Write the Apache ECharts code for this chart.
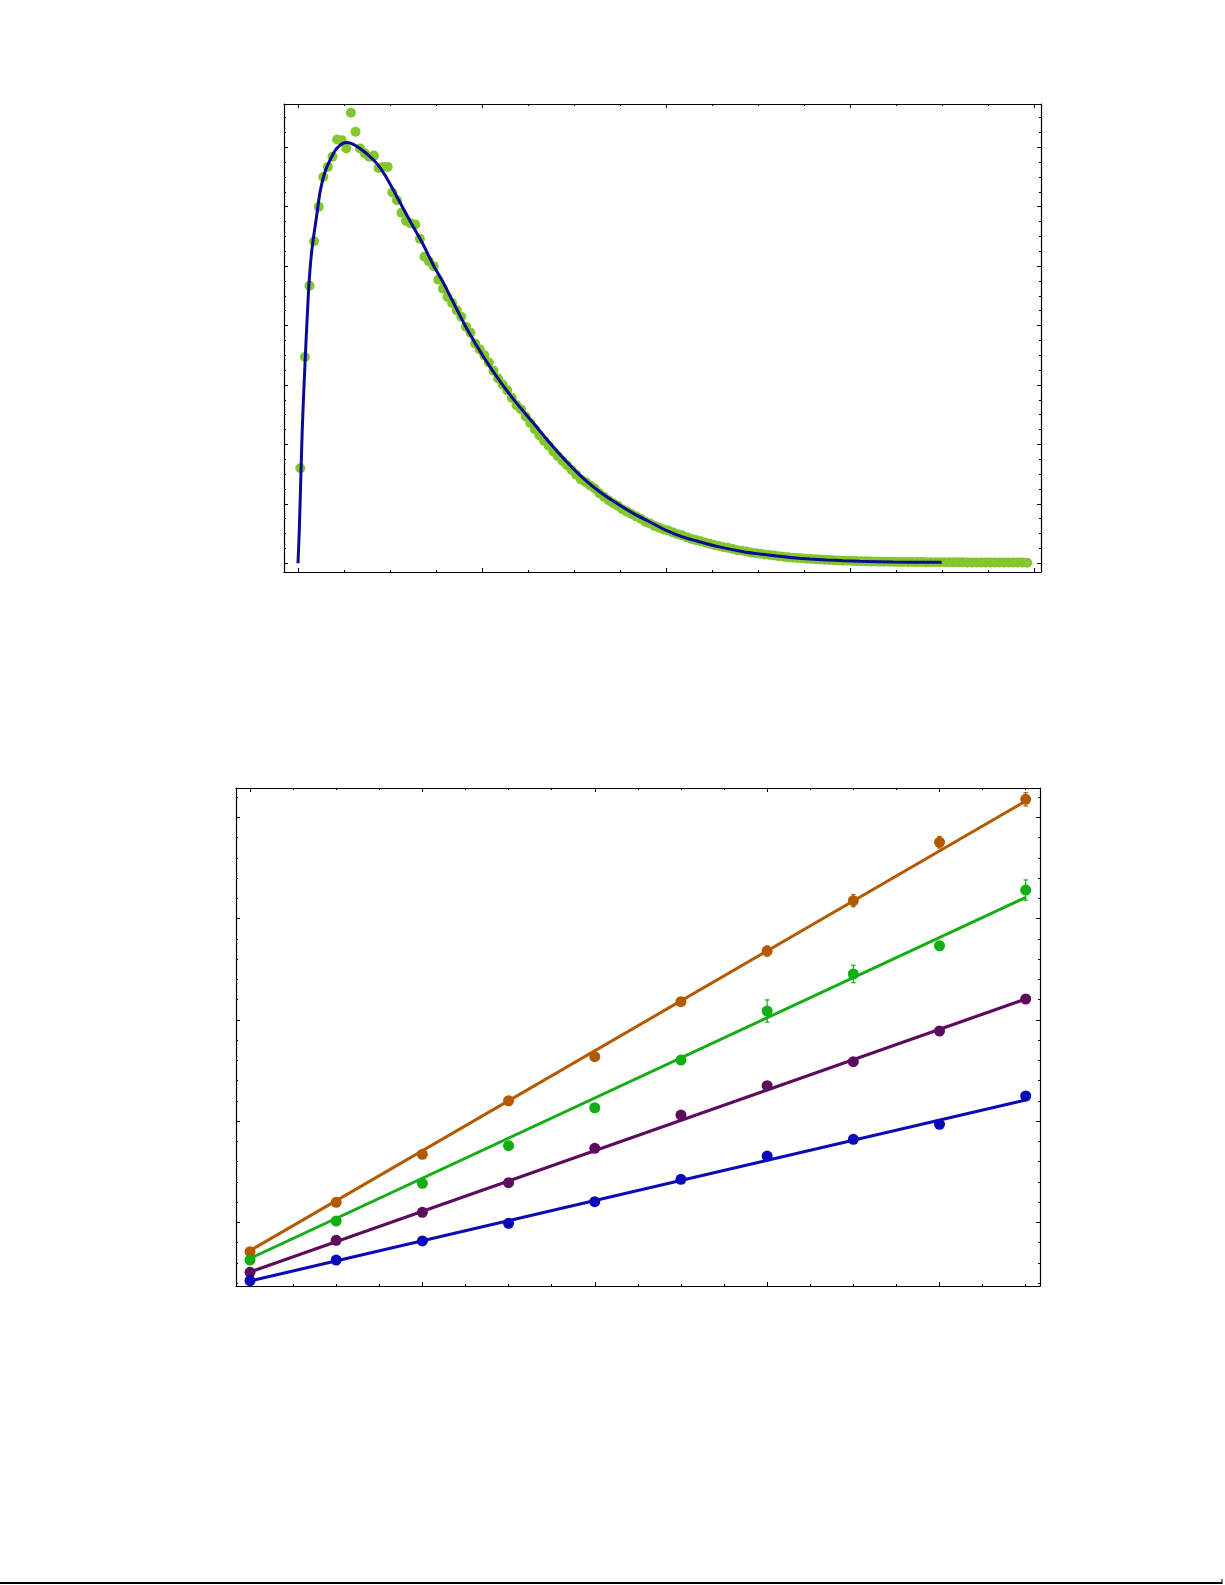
<!DOCTYPE html>
<html>
<head>
<meta charset="utf-8">
<script src="https://cdn.jsdelivr.net/npm/echarts@6/dist/echarts.min.js"></script>
<style>
html,body{margin:0;padding:0;background:#fff;}
#chart{width:1225px;height:1585px;}
</style>
</head>
<body>
<div id="chart"></div>
<script>
// ---------- Top panel data ----------
const topPointX = [
0.0125,0.0375,0.0625,0.0875,0.1125,0.1375,0.1625,0.1875,0.2125,0.2375,
0.2625,0.2875,0.3125,0.3375,0.3625,0.3875,0.4125,0.4375,0.4625,0.4875,
0.5125,0.5375,0.5625,0.5875,0.6125,0.6375,0.6625,0.6875,0.7125,0.7375,
0.7625,0.7875,0.8125,0.8375,0.8625,0.8875,0.9125,0.9375,0.9625,0.9875,
1.0125,1.0375,1.0625,1.0875,1.1125,1.1375,1.1625,1.1875,1.2125,1.2375,
1.2625,1.2875,1.3125,1.3375,1.3625,1.3875,1.4125,1.4375,1.4625,1.4875,
1.5125,1.5375,1.5625,1.5875,1.6125,1.6375,1.6625,1.6875,1.7125,1.7375,
1.7625,1.7875,1.8125,1.8375,1.8625,1.8875,1.9125,1.9375,1.9625,1.9875,
2.0125,2.0375,2.0625,2.0875,2.1125,2.1375,2.1625,2.1875,2.2125,2.2375,
2.2625,2.2875,2.3125,2.3375,2.3625,2.3875,2.4125,2.4375,2.4625,2.4875,
2.5125,2.5375,2.5625,2.5875,2.6125,2.6375,2.6625,2.6875,2.7125,2.7375,
2.7625,2.7875,2.8125,2.8375,2.8625,2.8875,2.9125,2.9375,2.9625,2.9875,
3.0125,3.0375,3.0625,3.0875,3.1125,3.1375,3.1625,3.1875,3.2125,3.2375,
3.2625,3.2875,3.3125,3.3375,3.3625,3.3875,3.4125,3.4375,3.4625,3.4875,
3.5125,3.5375,3.5625,3.5875,3.6125,3.6375,3.6625,3.6875,3.7125,3.7375,
3.7625,3.7875,3.8125,3.8375,3.8625,3.8875,3.9125,3.9375,3.9625
];
const topPointY = [
1.60,3.47,4.67,5.42,6.00,6.50,6.67,6.84,7.13,7.12,
6.98,7.58,7.26,6.98,6.90,6.84,6.86,6.65,6.67,6.67,
6.24,6.11,5.90,5.76,5.72,5.70,5.46,5.16,5.08,5.00,
4.77,4.62,4.48,4.38,4.26,4.15,3.98,3.88,3.70,3.60,
3.50,3.38,3.24,3.11,3.01,2.91,2.78,2.66,2.59,2.47,
2.36,2.25,2.15,2.06,1.98,1.88,1.80,1.72,1.65,1.57,
1.49,1.41,1.37,1.31,1.26,1.18,1.12,1.06,1.01,0.97,
0.91,0.87,0.83,0.79,0.75,0.70,0.67,0.63,0.60,0.57,
0.55,0.52,0.49,0.47,0.44,0.41,0.39,0.37,0.35,0.33,
0.31,0.29,0.27,0.26,0.24,0.22,0.21,0.20,0.18,0.17,
0.16,0.15,0.14,0.13,0.12,0.11,0.10,0.095,0.09,0.085,
0.078,0.072,0.068,0.063,0.058,0.055,0.051,0.048,0.045,0.042,
0.040,0.037,0.035,0.033,0.031,0.029,0.028,0.026,0.025,0.024,
0.023,0.022,0.021,0.021,0.020,0.020,0.019,0.019,0.018,0.018,
0.017,0.017,0.016,0.016,0.016,0.015,0.015,0.015,0.014,0.014,
0.014,0.013,0.013,0.013,0.012,0.012,0.012,0.012,0.011
];
const topCurveX = [0,0.007,0.015,0.023,0.034,0.056,0.074,0.102,0.120,0.147,0.183,0.210,0.246,0.268,0.301,0.337,0.382,0.428,0.473,0.518,0.572,0.627,0.681,0.735,0.790,0.826,0.917,1.007,1.098,1.189,1.279,1.370,1.460,1.551,1.641,1.732,1.822,1.913,2.004,2.094,2.185,2.284,2.420,2.511,2.602,2.692,2.783,2.873,2.964,3.054,3.235,3.498];
const topCurveY = [0,0.56,1.40,2.24,3.08,4.51,5.24,5.86,6.25,6.59,6.84,6.98,7.07,7.08,7.05,6.98,6.87,6.73,6.53,6.28,5.97,5.66,5.36,5.02,4.72,4.50,3.95,3.48,3.06,2.69,2.36,2.02,1.71,1.43,1.20,1.01,0.84,0.695,0.55,0.44,0.36,0.28,0.195,0.156,0.123,0.094,0.072,0.056,0.044,0.034,0.022,0.017];

const topXMajor = [0,1,2,3,4];
const topXMinor = [0.25,0.5,0.75,1.25,1.5,1.75,2.25,2.5,2.75,3.25,3.5,3.75];
const topYMajor = [0,1,2,3,4,5,6,7];
const topYMinor = [0.25,0.5,0.75,1.25,1.5,1.75,2.25,2.5,2.75,3.25,3.5,3.75,4.25,4.5,4.75,5.25,5.5,5.75,6.25,6.5,6.75,7.25,7.5];

// ---------- Bottom panel data ----------
const botX = [0,1,2,3,4,5,6,7,8,9];
const orangeY = [0.709,1.197,1.671,2.200,2.635,3.178,3.679,4.176,4.753,5.177];
const orangeErr = [0.02,0.02,0.02,0.02,0.025,0.035,0.05,0.06,0.057,0.066];
const greenY  = [0.627,1.012,1.385,1.756,2.131,2.602,3.086,3.452,3.731,4.281];
const greenErr = [0.02,0.02,0.02,0.02,0.03,0.03,0.11,0.086,0.03,0.10];
const purpleY = [0.506,0.822,1.098,1.391,1.730,2.059,2.349,2.586,2.889,3.205];
const purpleErr = [0.015,0.015,0.015,0.015,0.02,0.02,0.02,0.02,0.02,0.02];
const blueY   = [0.423,0.627,0.815,0.990,1.203,1.424,1.654,1.819,1.967,2.247];
const blueErr = [0.015,0.015,0.015,0.015,0.015,0.015,0.02,0.02,0.02,0.02];
const fitX = [0,9];
const orangeFit = [0.72,5.16];
const greenFit  = [0.642,4.209];
const purpleFit = [0.509,3.205];
const blueFit   = [0.42,2.207];

const botXMajor = [0,2,4,6,8];
const botXMinor = [0.5,1,1.5,2.5,3,3.5,4.5,5,5.5,6.5,7,7.5,8.5,9];
const botYMajor = [1,2,3,4,5];
const botYMinor = [0.4,0.6,0.8,1.2,1.4,1.6,1.8,2.2,2.4,2.6,2.8,3.2,3.4,3.6,3.8,4.2,4.4,4.6,4.8,5.2];

// ---------- Colors ----------
const C_POINT = '#82c72c';
const C_CURVE = '#0a0a92';
const C_ORANGE = '#b35a00';
const C_GREEN = '#12ae12';
const C_PURPLE = '#5c0c5c';
const C_BLUE = '#0a0ab6';

const zip = (xs, ys) => xs.map((x, i) => [x, ys[i]]);
const zip3 = (xs, ys, es) => xs.map((x, i) => [x, ys[i], es[i]]);

function axis(gridIndex, position, min, max, ticks, len, showLine) {
  return {
    type: 'value', gridIndex, position, min, max,
    axisLine: { show: showLine, onZero: false, lineStyle: { color: '#000', width: 1.2 } },
    axisTick: { show: true, inside: true, length: len, customValues: ticks, lineStyle: { color: '#000', width: 1 } },
    axisLabel: { show: false },
    splitLine: { show: false },
    minorTick: { show: false }
  };
}

const TOP = { left: 284, top: 104, width: 757, height: 468, xmin: -0.07609, xmax: 4.0380, ymin: -0.1464, ymax: 7.7284 };
const BOT = { left: 236, top: 788, width: 804, height: 498, xmin: -0.1624, xmax: 9.1658, ymin: 0.3704, ymax: 5.2889 };

const grids = [
  { left: TOP.left, top: TOP.top, width: TOP.width, height: TOP.height },
  { left: TOP.left, top: TOP.top, width: TOP.width, height: TOP.height },
  { left: BOT.left, top: BOT.top, width: BOT.width, height: BOT.height },
  { left: BOT.left, top: BOT.top, width: BOT.width, height: BOT.height }
];

const xAxes = [
  axis(0, 'bottom', TOP.xmin, TOP.xmax, topXMajor, 4, true),
  axis(0, 'top', TOP.xmin, TOP.xmax, topXMajor, 4, true),
  axis(1, 'bottom', TOP.xmin, TOP.xmax, topXMinor, 2, false),
  axis(1, 'top', TOP.xmin, TOP.xmax, topXMinor, 2, false),
  axis(2, 'bottom', BOT.xmin, BOT.xmax, botXMajor, 4, true),
  axis(2, 'top', BOT.xmin, BOT.xmax, botXMajor, 4, true),
  axis(3, 'bottom', BOT.xmin, BOT.xmax, botXMinor, 2, false),
  axis(3, 'top', BOT.xmin, BOT.xmax, botXMinor, 2, false)
];
const yAxes = [
  axis(0, 'left', TOP.ymin, TOP.ymax, topYMajor, 4, true),
  axis(0, 'right', TOP.ymin, TOP.ymax, topYMajor, 4, true),
  axis(1, 'left', TOP.ymin, TOP.ymax, topYMinor, 2, false),
  axis(1, 'right', TOP.ymin, TOP.ymax, topYMinor, 2, false),
  axis(2, 'left', BOT.ymin, BOT.ymax, botYMajor, 4, true),
  axis(2, 'right', BOT.ymin, BOT.ymax, botYMajor, 4, true),
  axis(3, 'left', BOT.ymin, BOT.ymax, botYMinor, 2, false),
  axis(3, 'right', BOT.ymin, BOT.ymax, botYMinor, 2, false)
];

function errorBars(name, color, data) {
  return {
    type: 'custom', name, xAxisIndex: 4, yAxisIndex: 4, clip: false, z: 3,
    data,
    renderItem: function (params, api) {
      const x = api.value(0), y = api.value(1), e = api.value(2);
      const hi = api.coord([x, y + e]);
      const lo = api.coord([x, y - e]);
      const w = 2.2;
      const st = { stroke: color, lineWidth: 1.2 };
      return {
        type: 'group',
        children: [
          { type: 'line', shape: { x1: hi[0], y1: hi[1], x2: lo[0], y2: lo[1] }, style: st },
          { type: 'line', shape: { x1: hi[0] - w, y1: hi[1], x2: hi[0] + w, y2: hi[1] }, style: st },
          { type: 'line', shape: { x1: lo[0] - w, y1: lo[1], x2: lo[0] + w, y2: lo[1] }, style: st }
        ]
      };
    }
  };
}
function fitLine(color, ys) {
  return { type: 'line', xAxisIndex: 4, yAxisIndex: 4, data: zip(fitX, ys), showSymbol: false, symbol: 'none', z: 2,
    lineStyle: { color, width: 3 }, silent: true };
}
function pts(color, ys) {
  return { type: 'scatter', xAxisIndex: 4, yAxisIndex: 4, data: zip(botX, ys), symbol: 'circle', symbolSize: 11, z: 4,
    itemStyle: { color, opacity: 1 } };
}

const option = {
  backgroundColor: '#ffffff',
  animation: false,
  grid: grids,
  xAxis: xAxes,
  yAxis: yAxes,
  series: [
    { type: 'scatter', xAxisIndex: 0, yAxisIndex: 0, data: zip(topPointX, topPointY), symbol: 'circle', symbolSize: 10, z: 2,
      itemStyle: { color: C_POINT, opacity: 1 } },
    { type: 'line', xAxisIndex: 0, yAxisIndex: 0, data: zip(topCurveX, topCurveY), showSymbol: false, symbol: 'none', smooth: 0.25, z: 3,
      lineStyle: { color: C_CURVE, width: 3 } },
    fitLine(C_ORANGE, orangeFit),
    fitLine(C_GREEN, greenFit),
    fitLine(C_PURPLE, purpleFit),
    fitLine(C_BLUE, blueFit),
    errorBars('orange', C_ORANGE, zip3(botX, orangeY, orangeErr)),
    errorBars('green', C_GREEN, zip3(botX, greenY, greenErr)),
    errorBars('purple', C_PURPLE, zip3(botX, purpleY, purpleErr)),
    errorBars('blue', C_BLUE, zip3(botX, blueY, blueErr)),
    pts(C_ORANGE, orangeY),
    pts(C_GREEN, greenY),
    pts(C_PURPLE, purpleY),
    pts(C_BLUE, blueY)
  ],
  graphic: [
    { type: 'line', shape: { x1: 0, y1: 1583, x2: 1222, y2: 1583 }, style: { stroke: '#000', lineWidth: 2 } },
    { type: 'line', shape: { x1: 1222, y1: 1579, x2: 1222, y2: 1584 }, style: { stroke: '#000', lineWidth: 1 } }
  ]
};

const chart = echarts.init(document.getElementById('chart'), null, { renderer: 'canvas' });
chart.setOption(option);
</script>
</body>
</html>
